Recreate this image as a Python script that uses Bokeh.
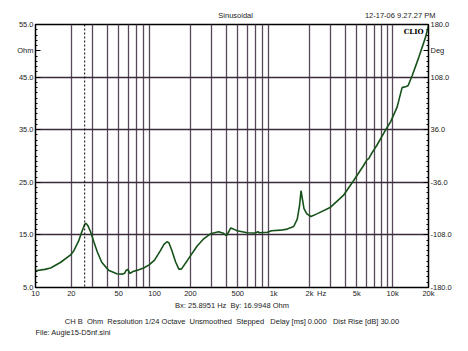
from bokeh.plotting import figure
from bokeh.models import Range1d, LinearAxis, LogAxis, FixedTicker, Label, Span, Title
from bokeh.embed import file_html
from bokeh.resources import INLINE

# ---- data ----
freq_hz = [10, 12, 13.4, 16.3, 19.7, 21, 23, 24.5, 25.9, 26.5, 27.5, 29, 31, 33, 36,
           41, 45, 48, 54, 56, 57.5, 59.5, 61, 62, 64, 66, 72, 81, 90, 100, 112, 120,
           127, 132, 140, 150, 160, 168, 188, 228, 260, 295, 345, 380, 402, 420, 435,
           460, 494, 600, 700, 740, 760, 886, 960, 1145, 1300, 1475, 1580, 1650, 1700,
           1740, 1800, 1900, 2060, 2310, 2980, 3855, 4690, 5700, 6100, 6300, 6700,
           7350, 8700, 9600, 10900, 12000, 13000, 13500, 14600, 16600, 18900, 20000]
impedance_ohm = [8.2, 8.45, 8.7, 9.8, 11.2, 12.0, 13.8, 15.6, 17.0, 17.2, 16.8, 15.6,
                 13.6, 11.8, 9.8, 8.3, 7.9, 7.6, 7.55, 7.7, 8.2, 8.45, 8.0, 7.7, 7.85,
                 8.05, 8.3, 8.7, 9.3, 10.2, 12.0, 13.2, 13.7, 13.5, 12.0, 9.9, 8.5, 8.5,
                 10.1, 12.9, 14.3, 15.2, 15.6, 15.3, 14.85, 15.6, 16.3, 16.1, 15.8, 15.4,
                 15.35, 15.6, 15.4, 15.5, 15.8, 15.9, 16.1, 16.6, 18.0, 20.5, 23.4, 22.0,
                 20.0, 19.0, 18.5, 19.0, 20.2, 22.5, 25.3, 28.2, 29.3, 29.5, 30.6, 32.0,
                 34.9, 36.5, 39.3, 43.0, 43.2, 43.4, 45.3, 48.8, 52.6, 54.8]

x_ticks = [10, 20, 50, 100, 200, 500, 1000, 2000, 2530, 5000, 10000, 20000]
x_tick_labels = ["10", "20", "50", "100", "200", "500", "1k", "2k", "Hz", "5k", "10k", "20k"]
x_grid = [m * 10 ** d for d in range(1, 5) for m in range(2, 10)
          if 10 < m * 10 ** d < 20000] + [10000]
ohm_ticks = [5, 15, 25, 35, 45, 55]
ohm_unit_at = 50
deg_ticks = [-180, -108, -36, 36, 108, 180]
deg_unit_at = 144
cursor_hz = 25.8951
header_at = [480, 11560]
header_texts = ["Sinusoidal", "12-17-06 9.27.27 PM"]
SP2 = "\u00a0\u00a0"
SP3 = "\u00a0\u00a0\u00a0"
cursor_text = "Bx: 25.8951 Hz" + SP2 + "By: 16.9948 Ohm"
settings_text = ("CH B" + SP2 + "Ohm" + SP2 + "Resolution 1/24 Octave" + SP2 +
                 "Unsmoothed" + SP2 + "Stepped" + SP3 + "Delay [ms] 0.000" + SP3 +
                 "Dist Rise [dB] 30.00")
file_text = "File: Augie15-D5nf.sini"

FONT = "Liberation Sans"
FS = "7.5px"
TXT = "#222222"
H = 351

p = figure(width=468, height=H, x_axis_type="log",
           x_range=Range1d(10, 20000), y_range=Range1d(5, 55),
           output_backend="svg", toolbar_location=None,
           min_border_left=35, min_border_right=40, min_border_top=24,
           min_border_bottom=64)
p.background_fill_color = "white"
p.border_fill_color = "white"
p.outline_line_color = "black"
p.outline_line_width = 1.5

# grids
p.xgrid.ticker = FixedTicker(ticks=sorted(set(x_grid)))
p.xgrid.grid_line_color = "#574857"
p.xgrid.grid_line_width = 1.3
p.ygrid.ticker = FixedTicker(ticks=ohm_ticks)
p.ygrid.grid_line_color = "#3a2a3a"
p.ygrid.grid_line_width = 1.3

def style_axis(ax):
    ax.major_label_text_font = FONT
    ax.major_label_text_font_size = FS
    ax.major_label_text_color = TXT
    ax.axis_label_text_font = FONT
    ax.axis_label_text_font_size = FS
    ax.axis_label_text_font_style = "normal"
    ax.axis_label_text_color = TXT

# bottom axis
xa = p.xaxis[0]
style_axis(xa)
xa.ticker = FixedTicker(ticks=x_ticks)
xa.major_label_overrides = {t: l for t, l in zip(x_ticks, x_tick_labels)}
xa.major_tick_out = 0
xa.major_tick_in = 0
xa.minor_tick_out = 0
xa.minor_tick_in = 0
xa.axis_line_color = "black"
xa.major_label_standoff = 1
xa.axis_label = cursor_text
xa.axis_label_standoff = 0

# top header axis (texts only)
ta = LogAxis()
style_axis(ta)
ta.ticker = FixedTicker(ticks=header_at)
ta.major_label_overrides = {t: l for t, l in zip(header_at, header_texts)}
ta.major_tick_out = 0
ta.major_tick_in = 0
ta.minor_tick_out = 0
ta.minor_tick_in = 0
ta.axis_line_color = None
ta.major_label_standoff = 5
p.add_layout(ta, "above")

# left axis
ya = p.yaxis[0]
style_axis(ya)
ya.ticker = FixedTicker(ticks=ohm_ticks + [ohm_unit_at], minor_ticks=list(range(5, 56)))
lo = {t: f"{t:.1f}" for t in ohm_ticks}
lo[ohm_unit_at] = "Ohm"
ya.major_label_overrides = lo
ya.major_tick_out = 0
ya.major_tick_in = 5
ya.minor_tick_out = 0
ya.minor_tick_in = 2
ya.axis_line_color = "black"
ya.major_label_standoff = 2

# right axis (phase)
p.extra_y_ranges = {"deg": Range1d(-180, 180)}
ra = LinearAxis(y_range_name="deg")
style_axis(ra)
ra.ticker = FixedTicker(ticks=deg_ticks + [deg_unit_at],
                        minor_ticks=[-180 + 7.2 * i for i in range(51)])
ro = {t: f"{t:.1f}" for t in deg_ticks}
ro[deg_unit_at] = "Deg"
ra.major_label_overrides = ro
ra.major_tick_out = 0
ra.major_tick_in = 5
ra.minor_tick_out = 0
ra.minor_tick_in = 2
ra.axis_line_color = "black"
ra.major_label_standoff = 2
p.add_layout(ra, "right")

# footer lines
for txt, al, so in [(settings_text, "center", 4), (file_text, "left", -4)]:
    p.add_layout(Title(text=txt, align=al, text_font=FONT, text_font_size=FS,
                       text_font_style="normal", text_color=TXT, standoff=so),
                 "below")

# cursor
p.add_layout(Span(location=cursor_hz, dimension="height", line_color="black",
                  line_width=1, line_dash="2 2"))

# curve
p.line(freq_hz, impedance_ohm, line_color="#16521a", line_width=1.6)

p.add_layout(Label(x=423, y=31, x_units="canvas", y_units="canvas", text="CLIO",
                   text_align="right", text_baseline="middle",
                   text_font="DejaVu Serif", text_font_size="7px",
                   text_font_style="bold", text_color="black"))

open("out.html", "w").write(file_html(p, INLINE))
